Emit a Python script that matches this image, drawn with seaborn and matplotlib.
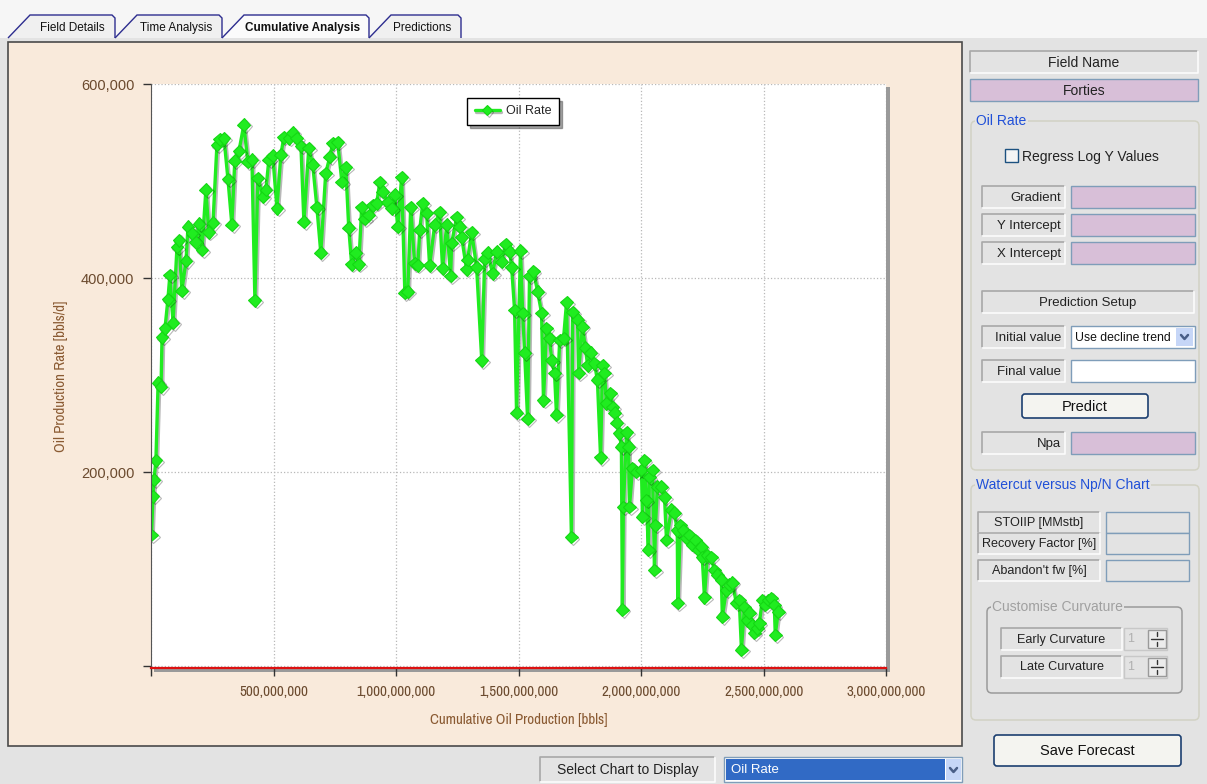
import numpy as np
import pandas as pd
import seaborn as sns
import matplotlib.pyplot as plt
import matplotlib.ticker as ticker
import matplotlib.patheffects as pe
from matplotlib import font_manager
from matplotlib.patches import Rectangle, Polygon, FancyBboxPatch

# cumulative oil production (MM bbls) and oil rate (thousand bbls/d)
cum_oil_mmbbl = [
    2, 8, 12, 20, 29, 41, 45, 57, 69, 77,
    90, 106, 114, 126, 143, 151, 167, 183, 196, 208,
    224, 236, 253, 269, 281, 298, 314, 330, 342, 359,
    379, 395, 412, 424, 436, 457, 469, 481, 497, 514,
    530, 542, 563, 579, 595, 612, 624, 644, 660, 677,
    693, 713, 730, 742, 762, 779, 795, 807, 819, 836,
    848, 860, 872, 889, 905, 921, 934, 946, 966, 983,
    995, 1007, 1023, 1036, 1048, 1060, 1076, 1089, 1097, 1109,
    1125, 1137, 1158, 1178, 1190, 1207, 1223, 1227, 1248, 1260,
    1268, 1288, 1292, 1309, 1329, 1350, 1362, 1374, 1394, 1411,
    1431, 1447, 1464, 1472, 1484, 1492, 1508, 1517, 1525, 1537,
    1545, 1561, 1578, 1594, 1602, 1614, 1627, 1635, 1647, 1655,
    1668, 1684, 1696, 1716, 1721, 1741, 1745, 1761, 1773, 1782,
    1794, 1810, 1822, 1835, 1843, 1851, 1859, 1875, 1884, 1892,
    1900, 1912, 1920, 1924, 1928, 1941, 1949, 1953, 1965, 1981,
    2002, 2006, 2014, 2022, 2030, 2034, 2047, 2055, 2059, 2067,
    2083, 2096, 2104, 2124, 2136, 2148, 2150, 2161, 2173, 2185,
    2197, 2210, 2222, 2234, 2246, 2250, 2259, 2271, 2287, 2299,
    2312, 2328, 2332, 2348, 2361, 2373, 2389, 2401, 2410, 2422,
    2434, 2442, 2454, 2463, 2475, 2483, 2495, 2507, 2520, 2532,
    2544, 2548, 2560,
]
oil_rate_kbpd = [
    135, 175, 192, 212, 292, 288, 339, 348, 378, 403,
    354, 432, 439, 387, 418, 453, 446, 437, 456, 429,
    491, 447, 457, 537, 543, 544, 502, 455, 521, 531,
    558, 520, 522, 377, 503, 484, 491, 522, 526, 472,
    527, 545, 544, 550, 544, 536, 458, 534, 517, 473,
    426, 508, 525, 539, 540, 499, 514, 452, 414, 426,
    414, 473, 461, 465, 475, 477, 499, 489, 478, 472,
    486, 453, 504, 385, 386, 473, 415, 413, 450, 477,
    467, 413, 455, 468, 410, 455, 402, 436, 463, 453,
    442, 409, 419, 447, 411, 315, 420, 426, 405, 427,
    417, 435, 427, 411, 367, 261, 428, 364, 323, 255,
    402, 407, 386, 364, 274, 348, 338, 315, 302, 259,
    336, 338, 375, 133, 365, 357, 302, 350, 328, 310,
    323, 312, 295, 215, 310, 302, 271, 281, 267, 261,
    251, 240, 226, 58, 164, 241, 226, 164, 204, 200,
    202, 154, 212, 171, 120, 195, 202, 99, 145, 185,
    185, 174, 130, 161, 158, 140, 65, 145, 140, 132,
    135, 125, 130, 120, 123, 112, 71, 114, 112, 99,
    94, 89, 51, 78, 84, 86, 65, 68, 17, 61,
    47, 55, 42, 34, 39, 44, 68, 63, 68, 70,
    63, 32, 56,
]

x_ticks = [0, 5e8, 1e9, 1.5e9, 2e9, 2.5e9, 3e9]
y_ticks = [0, 200000, 400000, 600000]

df = pd.DataFrame({
    "Cumulative": np.array(cum_oil_mmbbl) * 1e6,
    "Oil Rate": np.array(oil_rate_kbpd) * 1000,
})

sns.set_style("white")
plt.rcParams["font.family"] = ["Liberation Sans", "DejaVu Sans"]
installed = {f.name for f in font_manager.fontManager.ttflist}
narrow = "Liberation Sans"
for cand in ["Liberation Sans Narrow", "Arial Narrow", "Archivo Narrow", "PT Sans Narrow",
             "Pragati Narrow", "Roboto Condensed", "Open Sans Condensed"]:
    if cand in installed:
        narrow = cand
        break
narrow = [narrow, "DejaVu Sans"]

W, H = 1207, 784
GRAY = "#e3e3e3"
fig = plt.figure(figsize=(W / 100, H / 100), dpi=100, facecolor=GRAY)

# window chrome drawn in pixel coordinates
bg = fig.add_axes([0, 0, 1, 1], zorder=0)
bg.set_xlim(0, W)
bg.set_ylim(H, 0)
bg.axis("off")


def box(x, y, w, h, fc, ec="none", lw=1, z=1):
    bg.add_patch(Rectangle((x, y), w, h, facecolor=fc, edgecolor=ec, linewidth=lw, zorder=z))


def sunken(x, y, w, h, text, ha="right", size=9.5, color="#222222"):
    box(x, y, w, h, GRAY)
    bg.plot([x, x, x + w], [y + h, y, y], color="#a8a8a8", lw=1.2, zorder=2)
    bg.plot([x, x + w, x + w], [y + h, y + h, y], color="#fcfcfc", lw=1.2, zorder=2)
    tx = x + w - 4 if ha == "right" else x + w / 2
    bg.text(tx, y + h / 2 + 0.5, text, ha=ha, va="center", fontsize=size, color=color, zorder=3)


def button(x, y, w, h, text):
    bg.add_patch(FancyBboxPatch((x, y), w, h, boxstyle="round,pad=0,rounding_size=3",
                                facecolor="#f4f4f0", edgecolor="#1c3f70", linewidth=1.2, zorder=2))
    bg.text(x + w / 2, y + h / 2 + 0.5, text, ha="center", va="center", fontsize=10.5, color="#111111", zorder=3)


def group(x, y, w, h, text, color="#2050d8", ec="#d2d2c4"):
    bg.add_patch(FancyBboxPatch((x, y), w, h, boxstyle="round,pad=0,rounding_size=5",
                                facecolor="none", edgecolor=ec, linewidth=1.1, zorder=1))
    bg.text(x + 5, y, text, ha="left", va="center", fontsize=10, color=color, zorder=3,
            bbox=dict(facecolor=GRAY, edgecolor="none", pad=1))


def chevron(cx, cy):
    bg.plot([cx - 3.5, cx, cx + 3.5], [cy - 2, cy + 2, cy - 2], color="#4a5f88", lw=1.8, zorder=4)


# tab strip
box(0, 0, W, 38, "#f6f6f6", z=0)
tabs = [("Field Details", 8, 115, 72, False), ("Time Analysis", 115, 222, 176, False),
        ("Predictions", 369, 461, 422, False), ("Cumulative Analysis", 222, 369, 303, True)]
for name, x0, x1, xc, active in tabs:
    pts = [(x0, 38), (x0 + 22, 15), (x1 - 3, 15), (x1, 18), (x1, 38)]
    bg.add_patch(Polygon(pts, closed=False, facecolor="#fbfbfb" if active else "#f0f0f0",
                         edgecolor="#2d2d8f", linewidth=1, zorder=2 if active else 1))
    bg.text(xc, 28, name, ha="center", va="center", fontsize=8.5,
            fontweight="bold" if active else "normal", color="#111111", zorder=3)

# chart panel and plot shadow
box(8, 42, 954, 704, "#f9eadb", ec="#4a4a4a", lw=1.2)
box(154, 87, 736, 585, "#9a9a9a", z=1)

# bottom selector
sunken(540, 757, 175, 25, "Select Chart to Display", ha="center", size=10)
box(724, 757, 238, 25, "white", ec="#7f9db9")
box(726, 759, 219, 21, "#316ac5", z=2)
bg.text(731, 770, "Oil Rate", ha="left", va="center", fontsize=9.5, color="white", zorder=3)
box(946, 759, 15, 21, "#c6d6f7", z=2)
chevron(953.5, 770)

# right panel
sunken(970, 51, 228, 22, "Field Name", ha="center", size=10)
box(970, 79, 228, 22, "#d8bfd8", ec="#7f9db9")
bg.text(1084, 90.5, "Forties", ha="center", va="center", fontsize=10, color="#222222", zorder=3)

group(971, 121, 228, 349, "Oil Rate")
box(1005, 149, 13, 13, "#f4f4f4", ec="#1c5180", z=2)
bg.text(1022, 156.5, "Regress Log Y Values", ha="left", va="center", fontsize=10, color="#222222", zorder=3)
for label, yy in [("Gradient", 186), ("Y Intercept", 214), ("X Intercept", 242)]:
    sunken(982, yy, 83, 22, label)
    box(1071, yy, 124, 22, "#d8bfd8", ec="#7f9db9")
sunken(982, 291, 212, 22, "Prediction Setup", ha="center")
sunken(982, 326, 83, 22, "Initial value")
box(1071, 326, 124, 22, "white", ec="#7f9db9")
bg.text(1075, 337.5, "Use decline trend", ha="left", va="center", fontsize=8.8, color="#111111", zorder=3)
box(1176, 328, 17, 18, "#c6d6f7", z=2)
chevron(1184.5, 337)
sunken(982, 360, 83, 22, "Final value")
box(1071, 360, 124, 22, "white", ec="#7f9db9")
button(1022, 394, 126, 24, "Predict")
sunken(982, 432, 83, 22, "Npa")
box(1071, 432, 124, 22, "#d8bfd8", ec="#7f9db9")

group(971, 485, 228, 235, "Watercut versus Np/N Chart")
sunken(978, 512, 122, 21, "STOIIP [MMstb]", ha="center", size=9.1)
sunken(978, 533, 122, 21, "Recovery Factor [%]", ha="center", size=9.1)
sunken(978, 560, 122, 21, "Abandon't fw [%]", ha="center", size=9.1)
for yy in [512, 533, 560]:
    box(1106, yy, 83, 21, GRAY, ec="#7f9db9")

group(987, 607, 195, 86, "Customise Curvature", color="#a0a0a0", ec="#9a9a9a")
for label, yy in [("Early Curvature", 628), ("Late Curvature", 656)]:
    sunken(1001, yy, 121, 22, label, ha="center", size=9.1)
    box(1124, yy, 43, 22, GRAY, ec="#c8c8c8")
    bg.text(1127, yy + 11, "1", ha="left", va="center", fontsize=9, color="#b0b0b0", zorder=3)
    box(1148, yy + 2, 18, 18, "#ececec", ec="#9a9a9a", z=2)
    bg.plot([1157, 1157], [yy + 4, yy + 8], color="#333333", lw=1, zorder=4)
    bg.plot([1151, 1163], [yy + 11, yy + 11], color="#333333", lw=1, zorder=4)
    bg.plot([1157, 1157], [yy + 14, yy + 18], color="#333333", lw=1, zorder=4)
button(994, 735, 187, 31, "Save Forecast")

# the chart itself
ax = fig.add_axes([151 / W, 1 - 668 / H, 735 / W, 584 / H], zorder=2)
ax.set_facecolor("white")
sns.lineplot(data=df, x="Cumulative", y="Oil Rate", sort=False, estimator=None, ax=ax,
             color="#20ec20", linewidth=2.4, marker="D", markersize=6.5,
             markeredgecolor="#14d814", markeredgewidth=0.8, label="Oil Rate", legend=False)
ax.lines[0].set_path_effects([pe.SimpleLineShadow(offset=(1.2, -1.2), shadow_color="black", alpha=0.28),
                              pe.Normal()])

ax.set_xlim(0, 3e9)
ax.set_ylim(-2000, 600000)
ax.xaxis.set_major_locator(ticker.FixedLocator(x_ticks))
ax.yaxis.set_major_locator(ticker.FixedLocator(y_ticks))
fmt = ticker.FuncFormatter(lambda v, p: "" if v <= 0 else f"{v:,.0f}")
ax.xaxis.set_major_formatter(fmt)
ax.yaxis.set_major_formatter(fmt)
ax.grid(True, color="#b8b8b8", linestyle=":", linewidth=0.9)

ax.spines["top"].set_visible(False)
ax.spines["right"].set_visible(False)
ax.spines["left"].set_color("#555555")
ax.spines["bottom"].set_color("#dd1010")
ax.spines["bottom"].set_linewidth(1.6)
ax.tick_params(bottom=True, left=True, direction="out", length=6, width=1, color="#333333",
               labelcolor="#6b4a2e")
ax.tick_params(axis="x", labelsize=10.8, pad=6)
ax.tick_params(axis="y", labelsize=10.5, pad=6)
for lab in ax.get_xticklabels():
    lab.set_family(narrow)

ax.set_xlabel("Cumulative Oil Production [bbls]", fontsize=10.8, color="#8a5a32", family=narrow)
ax.set_ylabel("Oil Production Rate [bbls/d]", fontsize=10.8, color="#8a5a32", family=narrow)
ax.xaxis.set_label_coords(0.5, -45 / 584)
ax.yaxis.set_label_coords(-83 / 735, 0.5)

leg = ax.legend(loc="upper left", bbox_to_anchor=((467 - 151) / 735, (668 - 98) / 584),
                borderaxespad=0, frameon=True, fancybox=False, shadow=True, edgecolor="black",
                framealpha=1, fontsize=9, handlelength=2.0, borderpad=0.6, handletextpad=0.5,
                markerscale=0.75)
leg.get_frame().set_linewidth(1)

fig.savefig("out.png", dpi=100, facecolor=GRAY)
